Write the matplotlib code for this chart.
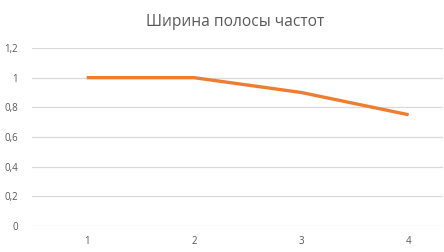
import matplotlib
matplotlib.use("Agg")
import matplotlib.pyplot as plt

categories = [1, 2, 3, 4]
values = [1.0, 1.0, 0.9, 0.75]
yticks = [0, 0.2, 0.4, 0.6, 0.8, 1.0, 1.2]
ytick_labels = ["0", "0,2", "0,4", "0,6", "0,8", "1", "1,2"]
title = "Ширина полосы частот"

plt.rcParams['font.family'] = ['Open Sans', 'DejaVu Sans']
fig = plt.figure(figsize=(4.44, 2.52), dpi=100)
W, H = 444, 252
ax = fig.add_axes([32 / W, 1 - 226 / H, (443 - 32) / W, (226 - 48) / H])

ax.plot(categories, values, color="#ED7D31", linewidth=2.4, solid_capstyle="butt")
ax.set_xlim(0.49, 4.32)
ax.set_ylim(0, 1.2)
ax.set_yticks(yticks)
ax.set_yticklabels(ytick_labels)
ax.set_xticks(categories)
ax.set_xticklabels([str(c) for c in categories])
ax.grid(axis="y", color="#D9D9D9", linewidth=0.9)
ax.set_axisbelow(True)
for s in ax.spines.values():
    s.set_visible(False)
ax.tick_params(axis="both", length=0, labelsize=7, colors="#595959")
ax.tick_params(axis="y", pad=10)
ax.tick_params(axis="x", pad=7)
fig.text(235 / W, 1 - 22 / H, title, ha="center", va="center", fontsize=11.2, color="#595959")
fig.savefig("out.png", dpi=100)
